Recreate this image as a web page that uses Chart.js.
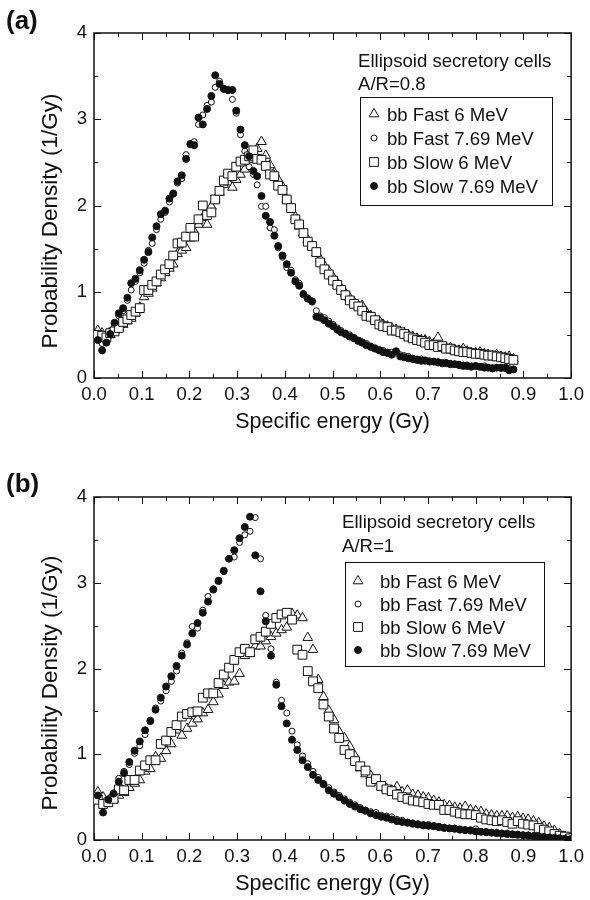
<!DOCTYPE html>
<html>
<head>
<meta charset="utf-8">
<title>Specific energy distributions — ellipsoid secretory cells</title>
<script src="https://cdn.jsdelivr.net/npm/chart.js@4.4.2/dist/chart.umd.min.js"></script>
<style>
  html, body { margin: 0; padding: 0; background: #fff; }
  canvas { display: block; }
</style>
</head>
<body>
<canvas id="chartA" width="590" height="464"></canvas>
<canvas id="chartB" width="590" height="436"></canvas>
<script>
// ================================================================
//   DATA
// ================================================================
const seriesLabels = ["bb Fast 6 MeV", "bb Fast 7.69 MeV", "bb Slow 6 MeV", "bb Slow 7.69 MeV"];
const xTickLabels  = ["0.0","0.1","0.2","0.3","0.4","0.5","0.6","0.7","0.8","0.9","1.0"];
const yTickLabels  = ["0","1","2","3","4"];
const xTitle = "Specific energy (Gy)";
const yTitle = "Probability Density (1/Gy)";

// ---- panel (a): A/R = 0.8 ----
const energyA = [0.008,0.017,0.026,0.034,0.043,0.052,0.061,0.070,0.078,0.087,
  0.096,0.105,0.114,0.122,0.131,0.140,0.149,0.158,0.166,0.175,
  0.184,0.193,0.202,0.210,0.219,0.228,0.237,0.246,0.254,0.263,
  0.272,0.281,0.290,0.298,0.307,0.316,0.325,0.334,0.342,0.351,
  0.360,0.369,0.378,0.386,0.395,0.404,0.413,0.422,0.430,0.439,
  0.448,0.457,0.466,0.474,0.483,0.492,0.501,0.510,0.518,0.527,
  0.536,0.545,0.554,0.562,0.571,0.580,0.589,0.598,0.606,0.615,
  0.624,0.633,0.642,0.650,0.659,0.668,0.677,0.686,0.694,0.703,
  0.712,0.721,0.730,0.738,0.747,0.756,0.765,0.774,0.782,0.791,
  0.800,0.809,0.818,0.826,0.835,0.844,0.853,0.862,0.870,0.879];

const fast6A = [0.55,0.52,0.49,0.50,0.55,0.58,0.62,0.66,0.69,0.75,
  0.82,0.94,0.98,1.04,1.10,1.16,1.22,1.27,1.32,1.44,
  1.48,1.51,1.62,1.70,1.78,1.86,1.78,1.99,2.07,2.15,
  2.24,2.27,2.21,2.30,2.36,2.42,2.53,2.60,2.66,2.74,
  2.58,2.47,2.38,2.30,2.22,2.07,1.97,1.87,1.76,1.68,
  1.60,1.53,1.45,1.38,1.30,1.24,1.17,1.10,1.04,0.98,
  0.93,0.88,0.84,0.84,0.76,0.72,0.68,0.66,0.62,0.60,
  0.58,0.56,0.53,0.52,0.50,0.48,0.46,0.44,0.44,0.42,
  0.40,0.47,0.36,0.35,0.35,0.33,0.32,0.34,0.31,0.29,
  0.29,0.30,0.28,0.27,0.26,0.27,0.25,0.24,0.25,0.22];

const fast769A = [0.47,0.40,0.45,0.55,0.60,0.72,0.78,0.90,1.02,1.12,
  1.22,1.33,1.48,1.56,1.72,1.84,1.92,2.04,2.13,2.26,
  2.31,2.59,2.72,2.74,2.94,3.05,3.16,3.20,3.37,3.44,
  3.36,3.33,3.23,3.07,2.82,2.63,2.45,2.36,2.24,1.99,
  1.99,1.74,1.72,1.51,1.40,1.28,1.25,1.14,1.10,0.98,
  0.93,0.88,0.78,0.72,0.70,0.66,0.62,0.58,0.55,0.52,
  0.50,0.47,0.44,0.42,0.40,0.37,0.35,0.33,0.32,0.30,
  0.30,0.29,0.27,0.26,0.25,0.23,0.22,0.22,0.21,0.20,
  0.19,0.19,0.18,0.18,0.17,0.16,0.16,0.15,0.15,0.14,
  0.14,0.13,0.14,0.12,0.12,0.12,0.11,0.11,0.11,0.10];

const slow6A = [0.50,0.49,0.47,0.52,0.54,0.58,0.65,0.68,0.73,0.77,
  0.81,1.02,1.02,1.08,1.12,1.20,1.26,1.32,1.42,1.56,
  1.57,1.64,1.74,1.64,1.84,2.00,1.89,1.92,2.07,2.17,
  2.29,2.37,2.34,2.45,2.51,2.53,2.57,2.64,2.54,2.53,
  2.46,2.36,2.34,2.23,2.18,2.07,1.97,1.84,1.78,1.68,
  1.58,1.53,1.46,1.34,1.26,1.20,1.13,1.08,1.02,0.96,
  0.90,0.86,0.83,0.78,0.72,0.71,0.67,0.62,0.60,0.59,
  0.55,0.55,0.53,0.51,0.48,0.46,0.44,0.43,0.41,0.38,
  0.38,0.36,0.37,0.34,0.34,0.32,0.31,0.30,0.30,0.29,
  0.28,0.28,0.27,0.26,0.26,0.25,0.24,0.23,0.22,0.21];

const slow769A = [0.44,0.32,0.41,0.51,0.64,0.75,0.81,0.93,1.10,1.15,
  1.25,1.37,1.46,1.63,1.76,1.90,1.94,2.08,2.14,2.28,
  2.35,2.54,2.71,2.70,3.02,2.94,3.12,3.27,3.51,3.41,
  3.35,3.34,3.34,3.10,2.88,2.70,2.57,2.40,2.34,2.11,
  1.88,1.81,1.65,1.53,1.42,1.32,1.22,1.12,1.07,0.97,
  0.92,0.89,0.71,0.70,0.67,0.63,0.60,0.56,0.53,0.51,
  0.48,0.46,0.43,0.41,0.38,0.36,0.34,0.32,0.30,0.29,
  0.27,0.31,0.25,0.24,0.23,0.22,0.21,0.20,0.20,0.19,
  0.19,0.18,0.17,0.17,0.16,0.16,0.15,0.14,0.14,0.13,
  0.14,0.13,0.12,0.12,0.11,0.12,0.12,0.12,0.09,0.10];

// ---- panel (b): A/R = 1 ----
const energyB = [0.008,0.019,0.030,0.041,0.052,0.063,0.074,0.085,0.096,0.107,
  0.118,0.129,0.140,0.151,0.162,0.173,0.184,0.195,0.206,0.217,
  0.228,0.239,0.250,0.261,0.272,0.283,0.294,0.305,0.316,0.327,
  0.338,0.349,0.360,0.371,0.382,0.393,0.404,0.415,0.426,0.437,
  0.448,0.459,0.470,0.481,0.492,0.503,0.514,0.525,0.536,0.547,
  0.558,0.569,0.580,0.591,0.602,0.613,0.624,0.635,0.646,0.657,
  0.668,0.679,0.690,0.701,0.712,0.723,0.734,0.745,0.756,0.767,
  0.778,0.789,0.800,0.811,0.822,0.833,0.844,0.855,0.866,0.877,
  0.888,0.899,0.910,0.921,0.932,0.943,0.954,0.965,0.976,0.987,
  0.998];

const fast6B = [0.56,0.50,0.46,0.48,0.52,0.55,0.61,0.66,0.70,0.80,
  0.83,0.97,0.95,1.04,1.12,1.28,1.22,1.30,1.36,1.41,
  1.48,1.52,1.61,1.70,1.80,1.84,1.85,1.94,2.15,2.18,
  2.26,2.26,2.32,2.37,2.41,2.45,2.48,2.64,2.62,2.59,
  2.36,2.22,1.87,1.67,1.51,1.40,1.26,1.19,1.09,0.98,
  0.84,0.77,0.75,0.70,0.62,0.60,0.58,0.62,0.56,0.58,
  0.53,0.52,0.50,0.49,0.46,0.44,0.41,0.40,0.38,0.37,
  0.39,0.35,0.34,0.33,0.30,0.29,0.28,0.28,0.28,0.26,
  0.27,0.25,0.24,0.22,0.20,0.16,0.14,0.11,0.07,0.04,
  0.02];

const fast769B = [0.51,0.40,0.44,0.55,0.72,0.80,0.88,1.01,1.10,1.23,
  1.38,1.54,1.62,1.74,1.85,1.97,2.18,2.30,2.49,2.47,
  2.68,2.84,2.93,3.03,3.13,3.28,3.30,3.47,3.56,3.60,
  3.76,3.28,2.62,2.23,1.84,1.63,1.48,1.27,1.11,0.98,
  0.89,0.80,0.73,0.66,0.61,0.56,0.52,0.48,0.44,0.41,
  0.38,0.35,0.33,0.32,0.29,0.28,0.27,0.24,0.23,0.21,
  0.20,0.19,0.18,0.18,0.17,0.16,0.15,0.14,0.14,0.13,
  0.12,0.12,0.13,0.10,0.10,0.09,0.09,0.08,0.08,0.07,
  0.07,0.06,0.06,0.05,0.05,0.04,0.04,0.03,0.03,0.02,
  0.02];

const slow6B = [0.47,0.42,0.44,0.48,0.59,0.58,0.70,0.70,0.81,0.87,
  0.93,0.93,1.12,1.16,1.26,1.34,1.44,1.47,1.49,1.50,
  1.66,1.71,1.71,1.83,1.93,2.01,2.10,2.19,2.23,2.19,
  2.34,2.37,2.43,2.52,2.59,2.63,2.65,2.57,2.22,2.16,
  1.97,1.85,1.77,1.58,1.44,1.30,1.19,1.05,1.00,0.92,
  0.86,0.81,0.68,0.71,0.63,0.59,0.57,0.53,0.50,0.48,
  0.46,0.45,0.44,0.42,0.41,0.41,0.35,0.35,0.33,0.31,
  0.30,0.30,0.29,0.26,0.24,0.23,0.22,0.23,0.21,0.19,
  0.22,0.19,0.18,0.17,0.14,0.12,0.10,0.07,0.05,0.04,
  0.02];

const slow769B = [0.52,0.32,0.47,0.54,0.68,0.78,0.91,1.04,1.15,1.28,
  1.39,1.52,1.66,1.79,1.91,2.03,2.15,2.28,2.41,2.53,
  2.65,2.78,2.92,3.02,3.14,3.28,3.38,3.52,3.65,3.77,
  3.32,2.90,2.55,2.15,1.81,1.56,1.36,1.17,1.05,0.93,
  0.85,0.76,0.70,0.65,0.58,0.54,0.50,0.46,0.42,0.39,
  0.36,0.34,0.31,0.29,0.27,0.26,0.24,0.22,0.21,0.20,
  0.19,0.18,0.17,0.165,0.16,0.15,0.14,0.135,0.13,0.12,
  0.115,0.11,0.10,0.095,0.09,0.085,0.08,0.075,0.07,0.065,
  0.06,0.055,0.05,0.045,0.04,0.035,0.03,0.025,0.02,0.015,
  0.01];

// ================================================================
//   STYLE
// ================================================================
const INK  = "#111";
const FONT = "'Liberation Sans', Arial, Helvetica, sans-serif";

// marker look for each series, same order as seriesLabels
const markers = [
  { style: "triangle", radius: 5.6, fill: "#fff", order: 3 },
  { style: "circle",   radius: 3.0, fill: "#fff", order: 2 },
  { style: "rect",     radius: 6.2, fill: "#fff", order: 1 },
  { style: "circle",   radius: 3.5, fill: INK,    order: 0 }
];

Chart.defaults.font.family = FONT;
Chart.defaults.font.size   = 18.5;
Chart.defaults.color       = INK;

function pts(xs, ys) {
  return xs.map((x, i) => ({ x, y: ys[i] }));
}

function drawMarker(ctx, m, x, y) {
  ctx.fillStyle   = m.fill;
  ctx.strokeStyle = INK;
  ctx.lineWidth   = 1;
  Chart.helpers.drawPoint(ctx, { pointStyle: m.style, radius: m.radius, rotation: 0, borderWidth: 1 }, x, y);
}

// ================================================================
//   FRAME, INWARD TICKS, Y TITLE, PANEL TAG AND LEGEND
// ================================================================
const panelDecor = {
  id: "panelDecor",
  beforeDatasetsDraw(chart) {
    const { ctx, chartArea: a, scales: { x, y } } = chart;
    ctx.save();
    ctx.strokeStyle = INK;
    ctx.lineWidth = 1;
    ctx.beginPath();
    const xv = x.ticks.map(t => t.value);
    xv.forEach((v, i) => {
      const p = Math.round(x.getPixelForValue(v)) + 0.5;
      ctx.moveTo(p, a.bottom); ctx.lineTo(p, a.bottom - 7);
      ctx.moveTo(p, a.top);    ctx.lineTo(p, a.top + 7);
      if (i < xv.length - 1) {
        const q = Math.round(x.getPixelForValue((v + xv[i + 1]) / 2)) + 0.5;
        ctx.moveTo(q, a.bottom); ctx.lineTo(q, a.bottom - 4);
        ctx.moveTo(q, a.top);    ctx.lineTo(q, a.top + 4);
      }
    });
    const yv = y.ticks.map(t => t.value);
    yv.forEach((v, i) => {
      const p = Math.round(y.getPixelForValue(v)) + 0.5;
      ctx.moveTo(a.left, p);  ctx.lineTo(a.left + 7, p);
      ctx.moveTo(a.right, p); ctx.lineTo(a.right - 7, p);
      if (i < yv.length - 1) {
        const q = Math.round(y.getPixelForValue((v + yv[i + 1]) / 2)) + 0.5;
        ctx.moveTo(a.left, q);  ctx.lineTo(a.left + 4, q);
        ctx.moveTo(a.right, q); ctx.lineTo(a.right - 4, q);
      }
    });
    ctx.stroke();
    ctx.lineWidth = 1.5;
    ctx.strokeRect(a.left, a.top, a.right - a.left, a.bottom - a.top);
    ctx.restore();
  },
  afterDraw(chart, args, o) {
    const ctx = chart.ctx;
    ctx.save();
    ctx.fillStyle = INK;

    // rotated y-axis title, sits a little below the axis middle as in the figure
    ctx.save();
    ctx.translate(o.yTitleX, o.yTitleY);
    ctx.rotate(-Math.PI / 2);
    ctx.font = "22.5px " + FONT;
    ctx.textAlign = "center";
    ctx.textBaseline = "middle";
    ctx.fillText(yTitle, 0, 0);
    ctx.restore();

    ctx.textBaseline = "alphabetic";
    ctx.font = "bold 26px " + FONT;
    ctx.fillText(o.tag, o.tagX, o.tagY);

    ctx.font = "18.6px " + FONT;
    o.note.forEach((line, i) => ctx.fillText(line, o.noteX, o.noteY[i]));

    const b = o.box;
    ctx.strokeStyle = INK;
    ctx.lineWidth = 1;
    ctx.strokeRect(b.x + 0.5, b.y + 0.5, b.w, b.h);

    seriesLabels.forEach((lab, i) => {
      const cy = o.rowY[i];
      drawMarker(ctx, markers[i], o.markX, cy);
      ctx.fillStyle = INK;
      ctx.fillText(lab, o.textX, cy + 6.5);
    });
    ctx.restore();
  }
};

// ================================================================
//   CHART FACTORY
// ================================================================
function makePanel(canvasId, xs, ys, geo, decor) {
  const datasets = ys.map((vals, i) => ({
    label: seriesLabels[i],
    data: pts(xs, vals),
    showLine: false,
    pointStyle: markers[i].style,
    pointRadius: markers[i].radius,
    pointBackgroundColor: markers[i].fill,
    pointBorderColor: INK,
    pointBorderWidth: 1,
    order: markers[i].order
  }));

  return new Chart(document.getElementById(canvasId), {
    type: "scatter",
    data: { datasets },
    plugins: [panelDecor],
    options: {
      responsive: false,
      animation: false,
      events: [],
      layout: { padding: geo.padding },
      plugins: {
        legend: { display: false },
        tooltip: { enabled: false },
        panelDecor: decor
      },
      scales: {
        x: {
          type: "linear", min: 0, max: 1,
          grid: { display: false, drawTicks: false },
          border: { display: false },
          ticks: {
            stepSize: 0.1, padding: 6, maxRotation: 0, autoSkip: false,
            callback: (v) => xTickLabels[Math.round(v * 10)]
          },
          title: { display: true, text: xTitle, font: { size: 21.5 }, padding: { top: 4, bottom: 2 } },
          afterFit: (s) => { s.height = geo.xHeight; }
        },
        y: {
          type: "linear", min: 0, max: 4,
          grid: { display: false, drawTicks: false },
          border: { display: false },
          ticks: {
            stepSize: 1, padding: 7,
            callback: (v) => yTickLabels[Math.round(v)]
          },
          afterFit: (s) => { s.width = geo.yWidth; }
        }
      }
    }
  });
}

makePanel("chartA", energyA, [fast6A, fast769A, slow6A, slow769A],
  { padding: { left: 38, top: 33, right: 14, bottom: 27 }, xHeight: 59, yWidth: 56 },
  {
    tag: "(a)", tagX: 6, tagY: 29, yTitleX: 51, yTitleY: 221,
    note: ["Ellipsoid secretory cells", "A/R=0.8"], noteX: 358, noteY: [67, 90],
    box: { x: 360, y: 97, w: 192, h: 108 },
    rowY: [114, 138, 162, 186], markX: 374, textX: 387
  });

makePanel("chartB", energyB, [fast6B, fast769B, slow6B, slow769B],
  { padding: { left: 38, top: 33, right: 14, bottom: 1 }, xHeight: 59, yWidth: 56 },
  {
    tag: "(b)", tagX: 6, tagY: 28, yTitleX: 51, yTitleY: 219,
    note: ["Ellipsoid secretory cells", "A/R=1"], noteX: 342, noteY: [64, 88],
    box: { x: 345, y: 98, w: 199, h: 104 },
    rowY: [117, 140, 163, 186], markX: 358, textX: 380
  });
</script>
</body>
</html>
